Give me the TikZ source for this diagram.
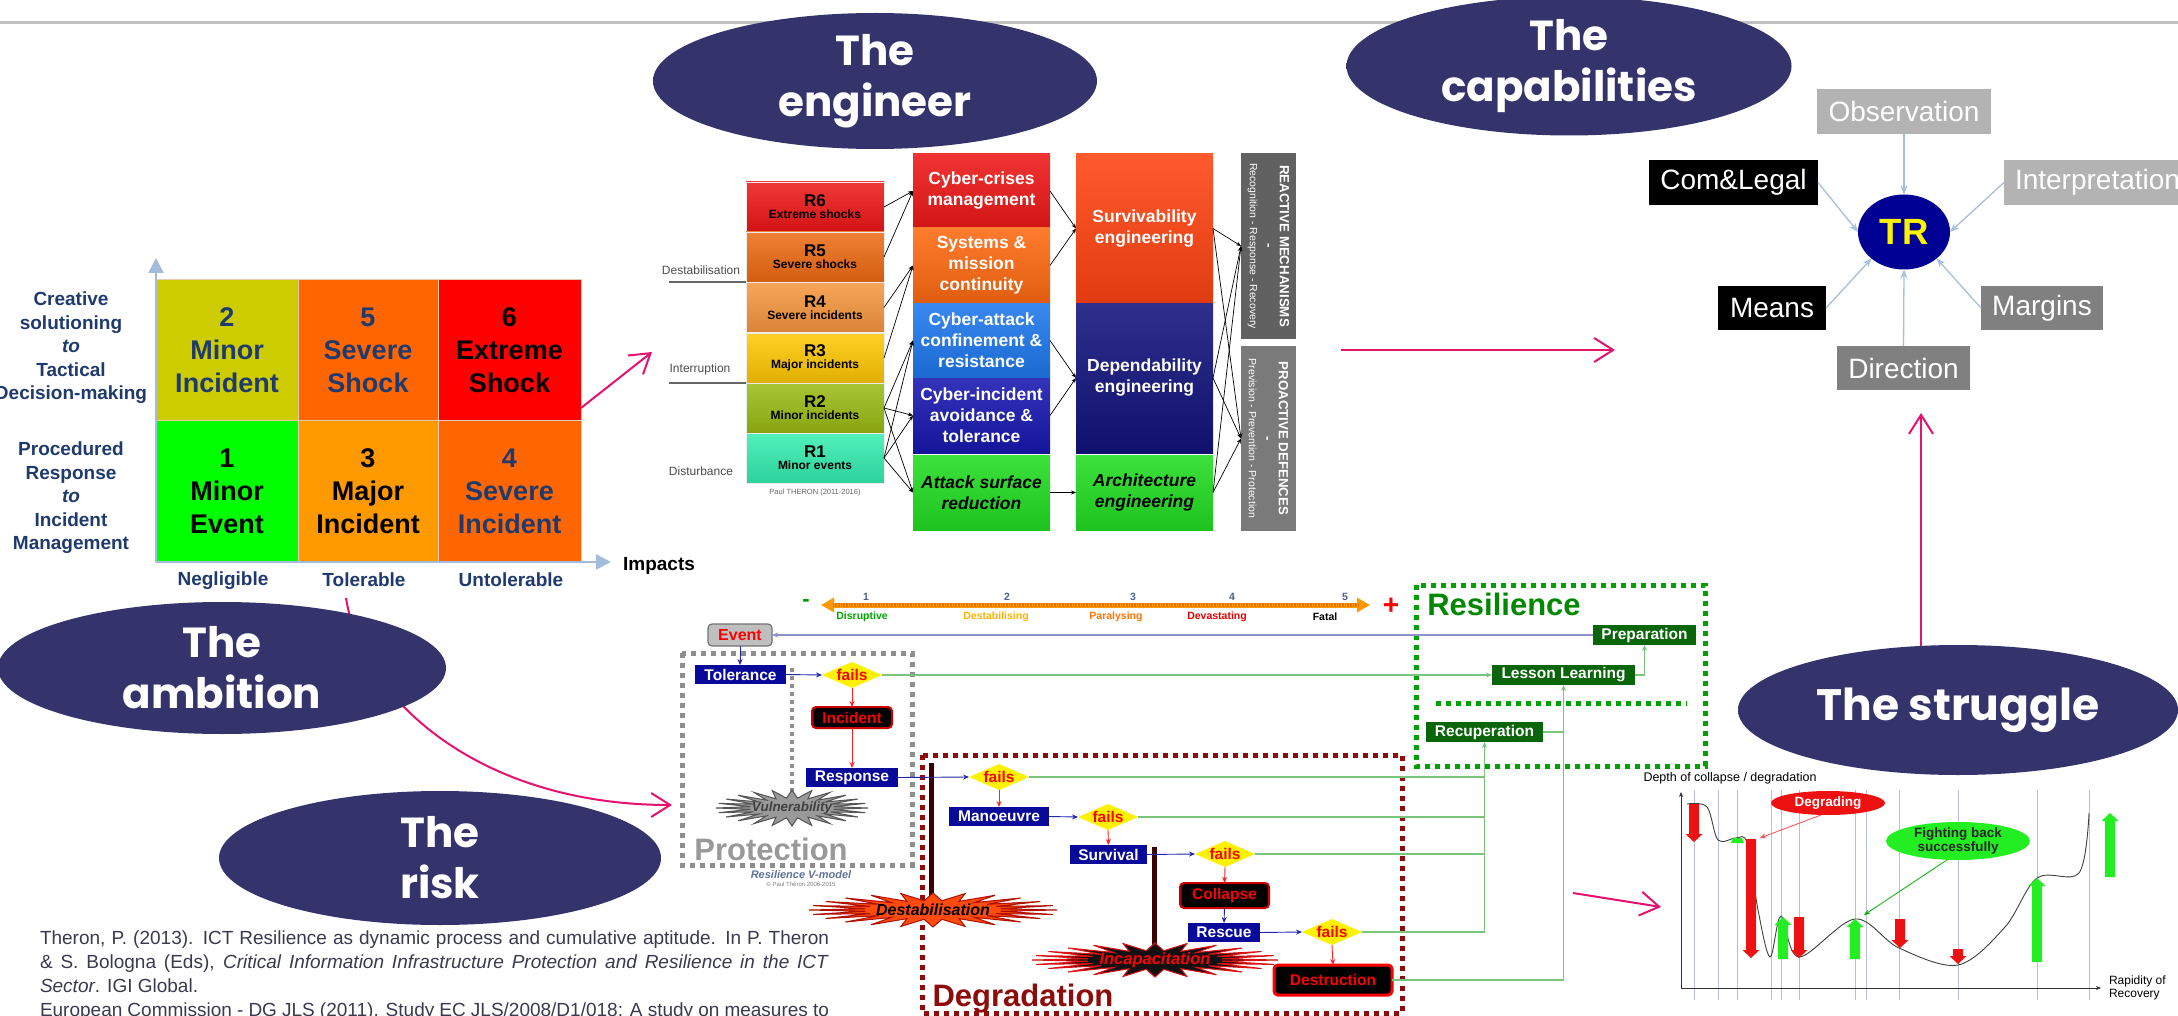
\documentclass[tikz,border=0pt]{standalone}
\usepackage{fontspec}
\setmainfont{Liberation Sans}
\newfontfamily\gothic{Poppins}
\usetikzlibrary{arrows.meta,shapes.geometric,calc}
\newcommand{\fsz}[2]{\fontsize{#1}{#2}\selectfont}
\definecolor{ellc}{HTML}{34336B}
\definecolor{elle}{HTML}{5455A8}
\definecolor{pinkc}{HTML}{E5126E}
\definecolor{navyt}{HTML}{1F3A6E}
\definecolor{axisc}{HTML}{A3BCDC}
\definecolor{cellb}{HTML}{E9C9B0}
\definecolor{mYel}{HTML}{CCCC00}
\definecolor{mOrg}{HTML}{FF6600}
\definecolor{mRed}{HTML}{FF0000}
\definecolor{mGrn}{HTML}{00FF00}
\definecolor{mAmb}{HTML}{FF9900}
\definecolor{rSix}{HTML}{EE1515}
\definecolor{rFive}{HTML}{EE6A12}
\definecolor{rFour}{HTML}{F7963C}
\definecolor{rThree}{HTML}{FFC800}
\definecolor{rTwo}{HTML}{9ABB12}
\definecolor{rOne}{HTML}{33EEB0}
\definecolor{eCris}{HTML}{EE1818}
\definecolor{eSys}{HTML}{FF6A12}
\definecolor{eAtt}{HTML}{1E78EE}
\definecolor{eInc}{HTML}{1818B0}
\definecolor{eGrn}{HTML}{22DD22}
\definecolor{eSurv}{HTML}{FF4412}
\definecolor{eDep}{HTML}{12127C}
\definecolor{barA}{HTML}{616161}
\definecolor{barB}{HTML}{7A7A7A}
\definecolor{capL}{HTML}{B3B3B3}
\definecolor{capD}{HTML}{808080}
\definecolor{capA}{HTML}{A8C0DC}
\definecolor{trc}{HTML}{000092}
\definecolor{vnavy}{HTML}{0A0A9A}
\definecolor{vgreen}{HTML}{0B650B}
\definecolor{vline}{HTML}{7CC47C}
\definecolor{vblue}{HTML}{2424A8}
\definecolor{vred}{HTML}{FF2222}
\definecolor{vlav}{HTML}{8F8FCC}
\definecolor{protc}{HTML}{8E8E8E}
\definecolor{degc}{HTML}{8E0C0C}
\definecolor{resgreen}{HTML}{00A000}
\definecolor{gridc}{HTML}{B8C0E2}
\definecolor{refc}{HTML}{3A3A4E}
\definecolor{burstO}{HTML}{FF4A10}
\definecolor{burstOd}{HTML}{B01000}
\definecolor{burstG}{HTML}{9A9A9A}
\definecolor{burstGd}{HTML}{555555}
\definecolor{burstK}{HTML}{111111}
\definecolor{burstKd}{HTML}{DD1111}
\definecolor{stickc}{HTML}{3A0000}
\definecolor{topln}{HTML}{C0C0C0}
\definecolor{chgreen}{HTML}{22EE22}
\definecolor{chred}{HTML}{EE1111}
\pgfdeclareradialshading{ellsh}{\pgfpoint{0bp}{0bp}}{color(0bp)=(ellc); color(34bp)=(ellc); color(50bp)=(elle)}
\newcommand{\vburst}[6]{%
  \filldraw[fill=#5, draw=#6, line width=1pt] plot[samples=49, domain=0:360, variable=\t]
   ({#1+#3*cos(\t)*(1-0.45*mod(round(\t/7.5),2))}, {#2+#4*sin(\t)*(1-0.45*mod(round(\t/7.5),2))}) -- cycle;}
\newcommand{\chartdown}[4]{\fill[#4] (#1-5,#2) -- (#1+5,#2) -- (#1+5,#3-8) -- (#1+8.5,#3-8) -- (#1,#3) -- (#1-8.5,#3-8) -- (#1-5,#3-8) -- cycle;}
\newcommand{\chartup}[4]{\fill[#4] (#1-5,#2) -- (#1+5,#2) -- (#1+5,#3+8) -- (#1+8.5,#3+8) -- (#1,#3) -- (#1-8.5,#3+8) -- (#1-5,#3+8) -- cycle;}
\begin{document}
\begin{tikzpicture}[x=1pt,y=-1pt,
  every node/.style={inner sep=0pt, outer sep=0pt},
  bigell/.style={ellipse, shade, shading=ellsh, text=white, align=center, font=\gothic\bfseries\fsz{42}{51}},
  pinkar/.style={draw=pinkc, line width=2pt, -{Straight Barb[length=19pt,width=24pt,line width=2pt]}},
  mcell/.style={minimum height=#1, align=center, font=\bfseries\fsz{27}{33}, draw=cellb, line width=1pt},
  stlbl/.style={text=navyt, align=center, font=\bfseries\fsz{19}{23.5}},
  rbox/.style={minimum width=138pt, minimum height=50pt, align=center, font=\bfseries, draw=white!85!gray, line width=0.6pt, top color=#1!85!white, bottom color=#1!88!black},
  ebox/.style={minimum width=137pt, align=center, text=white, font=\bfseries\fsz{17.5}{21}, top color=#1!88!white, bottom color=#1!88!black},
  earr/.style={draw=black, line width=0.7pt, -{Stealth[length=5pt,width=4pt]}},
  sidelbl/.style={text=black!70, font=\fsz{12}{12}},
  capbox/.style={minimum height=45pt, text=white, font=\fsz{28}{28}},
  capar/.style={draw=capA, line width=1.3pt, -{Stealth[length=9pt,width=7pt]}},
  vbx/.style={fill=vnavy, text=white, font=\bfseries\fsz{15.5}{16}, minimum height=19pt},
  gbx/.style={fill=vgreen, text=white, font=\bfseries\fsz{15.5}{16}, minimum height=20pt},
  kbx/.style={fill=black, text=red, font=\bfseries\fsz{15.5}{16}, draw=#1, line width=2pt, rounded corners=4pt},
  failsd/.style={diamond, aspect=2.3, fill=yellow, text=red, font=\bfseries\fsz{15.5}{16}, minimum width=60pt, minimum height=26pt},
  bluar/.style={draw=vblue, line width=0.9pt, -{Stealth[length=6pt,width=5pt]}},
  redar/.style={draw=vred, line width=0.9pt, -{Stealth[length=6pt,width=5pt]}},
  grnln/.style={draw=vline, line width=1.1pt},
  grnar/.style={draw=vline, line width=1.1pt, -{Stealth[length=6pt,width=5pt]}},
  dbox/.style={line width=5pt, dash pattern=on 5pt off 5pt},
]
\clip (0,0) rectangle (2178,1016);
\fill[white] (0,0) rectangle (2178,1016);

% ---------- top rule
\coordinate (tl0) at (0,23); \coordinate (tl1) at (2178,23);
\draw[draw=topln, line width=3pt] (tl0) -- (tl1);

% ---------- curve ambition -> protection (behind ellipse)
\coordinate (ambst) at (346,598);
\coordinate (risktip) at (672,805);
\draw[pinkar] (ambst) .. controls (362,700) and (480,805) .. (risktip);

% ---------- ellipses
\node[bigell, minimum width=444pt, minimum height=136pt] (engell) at (875,81) {The\\engineer};
\node[bigell, minimum width=445pt, minimum height=139pt] (capell) at (1569,66) {The\\capabilities};
\node[bigell, minimum width=448pt, minimum height=132pt] (ambell) at (222,668) {The\\ambition};
\node[bigell, minimum width=442pt, minimum height=134pt] (riskell) at (440,858) {The\\risk};

% ---------- matrix
\node[mcell=140pt, minimum width=142pt, fill=mYel, text=navyt] (m2) at (227,350) {2\\Minor\\Incident};
\node[mcell=140pt, minimum width=140pt, fill=mOrg, text=navyt] (m5) at (368,350) {5\\Severe\\Shock};
\node[mcell=140pt, minimum width=143pt, fill=mRed, text=black] (m6) at (509.5,350) {6\\Extreme\\Shock};
\node[mcell=142pt, minimum width=142pt, fill=mGrn, text=black] (m1) at (227,491) {1\\Minor\\Event};
\node[mcell=142pt, minimum width=140pt, fill=mAmb, text=black] (m3) at (368,491) {3\\Major\\Incident};
\node[mcell=142pt, minimum width=143pt, fill=mOrg, text=navyt] (m4) at (509.5,491) {4\\Severe\\Incident};
\coordinate (ax0) at (156,562); \coordinate (axY) at (156,258); \coordinate (axX) at (611,562);
\draw[draw=axisc, line width=2.5pt, -{Triangle[length=15pt,width=15pt]}] (ax0) -- (axY);
\draw[draw=axisc, line width=2.5pt, -{Triangle[length=15pt,width=15pt]}] (ax0) -- (axX);
\node[stlbl] (lblA) at (71,348) {Creative\\solutioning\\\textit{to}\\Tactical\\Decision-making};
\node[stlbl] (lblB) at (71,498) {Procedured\\Response\\\textit{to}\\Incident\\Management};
\node[stlbl] (neg) at (223,581) {Negligible};
\node[stlbl] (tolb) at (364,580) {Tolerable};
\node[stlbl] (unt) at (511,580) {Untolerable};
\node[font=\bfseries\fsz{19}{19}] (imp) at (659,566) {Impacts};
\coordinate (pa1s) at (581,408); \coordinate (pa1e) at (652,352);
\draw[pinkar] (pa1s) -- (pa1e);

% ---------- engineer diagram
\node[rbox=rSix] (r6) at (815,207) {\fsz{17}{16}R6\\\fsz{12}{16}Extreme shocks};
\node[rbox=rFive] (r5) at (815,257) {\fsz{17}{16}R5\\\fsz{12}{16}Severe shocks};
\node[rbox=rFour] (r4) at (815,307.5) {\fsz{17}{16}R4\\\fsz{12}{16}Severe incidents};
\node[rbox=rThree] (r3) at (815,358) {\fsz{17}{16}R3\\\fsz{12}{16}Major incidents};
\node[rbox=rTwo] (r2) at (815,408) {\fsz{17}{16}R2\\\fsz{12}{16}Minor incidents};
\node[rbox=rOne] (r1) at (815,458) {\fsz{17}{16}R1\\\fsz{12}{16}Minor events};
\node[sidelbl] (dstl) at (701,270) {Destabilisation};
\node[sidelbl] (intl) at (700,369) {Interruption};
\node[sidelbl] (disl) at (701,471) {Disturbance};
\coordinate (dl0) at (669,282); \coordinate (il0) at (669,383);
\draw[draw=black!60, line width=1.5pt] (dl0) -- (dl0 -| r4.west);
\draw[draw=black!60, line width=1.5pt] (il0) -- (il0 -| r2.west);
\node[text=black!60, font=\fsz{7.5}{8}] (ptheron) at (815,493) {Paul THERON  (2011-2016)};

\node[ebox=eCris, minimum height=74pt] (cc) at (981.5,191) {Cyber-crises\\management};
\node[ebox=eSys, minimum height=75pt] (sm) at (981.5,265.5) {Systems \&\\mission\\continuity};
\node[ebox=eAtt, minimum height=75pt] (ca) at (981.5,340.5) {Cyber-attack\\confinement \&\\resistance};
\node[ebox=eInc, minimum height=75pt] (ci) at (981.5,415.5) {Cyber-incident\\avoidance \&\\tolerance};
\node[ebox=eGrn, minimum height=75pt, text=black, font=\bfseries\itshape\fsz{17.5}{21}] (as) at (981.5,492.5) {Attack surface\\reduction};
\node[ebox=eSurv, minimum height=149pt] (sv) at (1144.5,228.5) {Survivability\\engineering};
\node[ebox=eDep, minimum height=150pt] (dp) at (1144.5,378) {Dependability\\engineering};
\node[ebox=eGrn, minimum height=75pt, text=black, font=\bfseries\itshape\fsz{17.5}{21}] (ar) at (1144.5,492.5) {Architecture\\engineering};
\node[fill=barA, minimum width=55pt, minimum height=186pt] (rea) at (1268.5,246) {};
\node[fill=barB, minimum width=55pt, minimum height=185pt] (pro) at (1268.5,438.5) {};
\node[rotate=-90, align=center, text=white, font=\bfseries\fsz{13.3}{15}] (reat) at (rea.center) {REACTIVE MECHANISMS\\-\\\mdseries\fsz{10.5}{14}Recognition - Response - Recovery};
\node[rotate=-90, align=center, text=white, font=\bfseries\fsz{13.3}{15}] (prot) at (pro.center) {PROACTIVE DEFENCES\\-\\\mdseries\fsz{10.5}{14}Prevision - Prevention - Protection};
\draw[earr] (r6.east) -- (cc.west);
\draw[earr] (r5.east) -- (cc.west);
\draw[earr] (r4.east) -- (sm.west);
\draw[earr] (r3.east) -- (sm.west);
\foreach \a in {r2,r1} \foreach \b in {ca,ci,as} \draw[earr] (\a.east) -- (\b.west);
\draw[earr] (cc.east) -- (sv.west);
\draw[earr] (sm.east) -- (sv.west);
\draw[earr] (ca.east) -- (dp.west);
\draw[earr] (ci.east) -- (dp.west);
\draw[earr] (as.east) -- (ar.west);
\foreach \a in {sv,dp,ar} \foreach \b in {rea,pro} \draw[earr] (\a.east) -- (\b.west);

% ---------- engineer -> capabilities arrow
\coordinate (pa2s) at (1341,350); \coordinate (pa2e) at (1615,350);
\draw[pinkar] (pa2s) -- (pa2e);

% ---------- capabilities
\node[ellipse, fill=trc, minimum width=92pt, minimum height=75pt, text=yellow, font=\bfseries\fsz{36.5}{36}] (tr) at (1904,232) {TR};
\node[capbox, fill=capL, minimum width=174pt] (obs) at (1904,111.5) {Observation};
\node[capbox, fill=black, minimum width=169pt] (com) at (1733.5,182.5) {Com\&Legal};
\node[capbox, fill=capL, minimum width=200pt, anchor=west, inner xsep=11pt, text width=185pt, align=left] (intp) at (2004,182.5) {Interpretation};
\node[capbox, fill=black, minimum width=108pt, minimum height=44pt] (means) at (1772,308) {Means};
\node[capbox, fill=capD, minimum width=122pt, minimum height=44pt] (marg) at (2042,308) {Margins};
\node[capbox, fill=capD, minimum width=133pt, minimum height=44pt] (dir) at (1903.5,368) {Direction};
\draw[capar] (obs.south) -- (tr.north);
\draw[capar] (com.east) -- (tr.west);
\draw[capar] (intp.west) -- (tr.east);
\draw[capar] (means.east) -- (tr.south west);
\draw[capar] (marg.west) -- (tr.south east);
\draw[capar] (dir.north) -- (tr.south);

% ---------- struggle ellipse and arrow up
\coordinate (pa3s) at (1921,650); \coordinate (pa3e) at (1921,413);
\draw[pinkar] (pa3s) -- (pa3e);
\node[bigell, minimum width=440pt, minimum height=130pt, font=\gothic\bfseries\fsz{44}{51}] (strell) at (1958,710) {The struggle};

% ---------- V-model
\draw[dbox, draw=protc] (682,653) rectangle (912,865);
\draw[line width=4pt, dash pattern=on 4pt off 4pt, draw=protc] (792,668) -- (792,797);
\draw[dbox, draw=degc] (922,755) rectangle (1402,1013);
\draw[dbox, draw=resgreen] (1416,585) rectangle (1705,766);
\draw[dbox, draw=resgreen] (1436,703) -- (1687,703);
\node[font=\bfseries\fsz{31}{31}, text=black!40] (protlbl) at (771,849) {Protection};
\node[font=\bfseries\fsz{31}{31}, text=degc] (deglbl) at (1023,999) {Degradation};
\node[font=\bfseries\fsz{31}{31}, text=resgreen!85!black] (reslbl) at (1504,604) {Resilience};
\node[font=\bfseries\itshape\fsz{11}{11}, text=navyt!70!white] (rvm) at (801,875) {Resilience V-model};
\node[font=\fsz{6}{6}, text=black!50] (cpr) at (801,884) {© Paul Théron 2006-2015};

% scale
\coordinate (scL) at (821,605); \coordinate (scR) at (1370,605);
\draw[line width=5pt, draw=orange!80!yellow, {Triangle[length=13pt,width=14pt]}-{Triangle[length=13pt,width=14pt]}] (scL) -- (scR);
\draw[line width=4pt, draw=orange!90!black, dash pattern=on 0.8pt off 0.8pt, shorten <=12pt, shorten >=12pt] (scL) -- (scR);
\node[font=\bfseries\fsz{22}{22}, text=green!60!black] (minus) at (806,603) {-};
\node[font=\bfseries\fsz{28}{28}, text=red] (plus) at (1391,606) {+};
\foreach \n/\xx in {1/866,2/1007,3/1133,4/1232,5/1345}
  \node[font=\bfseries\fsz{10.5}{11}, text=navyt!80!white] (num\n) at (\xx,597) {\n};
\node[font=\bfseries\fsz{10.5}{11}, text=green!65!black] (sl1) at (862,617) {Disruptive};
\node[font=\bfseries\fsz{10.5}{11}, text=orange!60!yellow] (sl2) at (996,617) {Destabilising};
\node[font=\bfseries\fsz{10.5}{11}, text=orange!90!red] (sl3) at (1116,617) {Paralysing};
\node[font=\bfseries\fsz{10.5}{11}, text=red!90!black] (sl4) at (1217,617) {Devastating};
\node[font=\bfseries\fsz{10.5}{11}, text=black] (sl5) at (1325,617) {Fatal};

% sticks and bursts
\coordinate (st1a) at (931,763); \coordinate (st1b) at (931,897);
\coordinate (st2a) at (1154,847); \coordinate (st2b) at (1154,947);
\draw[line width=5pt, draw=stickc] (st1a) -- (st1b);
\draw[line width=5pt, draw=stickc] (st2a) -- (st2b);
\vburst{792}{808}{76}{18}{burstG}{burstGd}
\vburst{933}{910}{124}{17}{burstO}{burstOd}
\vburst{1155}{960}{123}{17}{burstK}{burstKd}
\node[font=\bfseries\itshape\fsz{13.4}{14}, text=black!75] (vuln) at (792,808) {Vulnerability};
\node[font=\bfseries\itshape\fsz{16}{16}, text=black] (destab) at (933,910) {Destabilisation};
\node[font=\bfseries\itshape\fsz{16.5}{16}, text=red] (incap) at (1155,960) {Incapacitation};

% boxes
\node[fill=black!25, draw=black!55, line width=1.2pt, rounded corners=4pt, minimum width=64pt, minimum height=22pt, text=red, font=\bfseries\fsz{16}{16}] (event) at (740,635) {Event};
\node[vbx, minimum width=91pt] (tol) at (740.5,674.5) {Tolerance};
\node[failsd] (f1) at (852,675) {fails};
\node[kbx=red!80!black, minimum width=80pt, minimum height=21pt] (inc) at (852,717.5) {Incident};
\node[vbx, minimum width=92pt] (resp) at (852,777.5) {Response};
\node[failsd] (f2) at (999,777) {fails};
\node[vbx, minimum width=100pt] (man) at (999,816.5) {Manoeuvre};
\node[failsd] (f3) at (1108,817) {fails};
\node[vbx, minimum width=77pt] (surv) at (1108.5,854.5) {Survival};
\node[failsd] (f4) at (1225,854) {fails};
\node[kbx=red!80!black, minimum width=89pt, minimum height=25pt] (col) at (1224.5,895.5) {Collapse};
\node[vbx, minimum width=72pt] (resc) at (1224,932.5) {Rescue};
\node[failsd] (f5) at (1332,932) {fails};
\node[kbx=red, minimum width=118pt, minimum height=30pt, line width=3pt] (des) at (1333,980) {Destruction};
\node[gbx, minimum width=103pt] (prep) at (1644.5,635) {Preparation};
\node[gbx, minimum width=143pt] (les) at (1563.5,675) {Lesson Learning};
\node[gbx, minimum width=117pt] (rec) at (1484.5,732) {Recuperation};

\draw[draw=vlav, line width=1.3pt, -{Stealth[length=6pt,width=5pt]}] (prep.west) -- (event.east);
\draw[bluar] (event.south) -- (event.south |- tol.north);
\draw[bluar] (tol.east) -- (f1.west);
\draw[grnar] (f1.east) -- (les.west);
\draw[redar] (f1.south) -- (inc.north);
\draw[redar] (inc.south) -- (resp.north);
\draw[bluar] (resp.east) -- (f2.west);
\draw[redar] (f2.south) -- (man.north);
\draw[bluar] (man.east) -- (f3.west);
\draw[redar] (f3.south) -- (surv.north);
\draw[bluar] (surv.east) -- (f4.west);
\draw[redar] (f4.south) -- (col.north);
\draw[bluar] (col.south) -- (resc.north);
\draw[bluar] (resc.east) -- (f5.west);
\draw[redar] (f5.south) -- (des.north);
\draw[grnln] (f2.east) -- (rec.south |- f2.east);
\draw[grnln] (f3.east) -- (rec.south |- f3.east);
\draw[grnln] (f4.east) -- (rec.south |- f4.east);
\draw[grnar] (f5.east) -- (rec.south |- f5.east) -- (rec.south);
\draw[grnar] (des.east) -- (les.south |- des.east) -- (les.south);
\draw[grnln] (rec.east) -- (les.south |- rec.east);
\draw[grnar] (les.east) -- (prep.south |- les.east) -- (prep.south);

% ---------- V-model -> chart arrow
\coordinate (pa4s) at (1573,893); \coordinate (pa4e) at (1661,907);
\draw[pinkar] (pa4s) -- (pa4e);

% ---------- struggle chart
\foreach \gx in {1694,1718,1737,1771,1781,1799,1855,1866,1899,1958,2037,2089}
  \draw[draw=gridc, line width=0.7pt] (\gx,790) -- (\gx,1000);
\coordinate (yo) at (1681,988); \coordinate (ytop) at (1681,792); \coordinate (xend) at (2101,988);
\draw[black!80, line width=0.9pt, -{Stealth[length=5pt,width=4pt]}] (yo) -- (ytop);
\draw[black!80, line width=0.9pt, -{Stealth[length=5pt,width=4pt]}] (yo) -- (xend);
\node[font=\fsz{12.5}{13}] (depth) at (1730,778) {Depth of collapse / degradation};
\node[font=\fsz{12}{13}, anchor=west, align=left] (rapid) at (2109,988) {Rapidity of\\Recovery};
\draw[black!75, line width=0.9pt] plot[smooth, tension=0.55] coordinates {(1687,804) (1707,807) (1718,840) (1736,838) (1747,843) (1758,910) (1770,957) (1781,916) (1799,957) (1855,919) (1899,948) (1958,965) (2005,927) (2037,878) (2079,873) (2089,813)};
\chartdown{1694}{804}{842}{chred}
\chartdown{1751}{839}{958}{chred}
\chartdown{1799}{917}{958}{chred}
\chartdown{1900}{919}{948}{chred}
\chartdown{1958}{949}{964}{chred}
\chartup{1783}{959}{917}{chgreen}
\chartup{1855}{959}{919}{chgreen}
\chartup{2037}{962}{878}{chgreen}
\chartup{2110}{877}{813}{chgreen}
\fill[chgreen] (1733,838) -- (1742,838) -- (1744,843) -- (1731,843) -- cycle;
\node[ellipse, fill=chred, minimum width=114pt, minimum height=24pt, text=white, font=\bfseries\fsz{13.5}{14}] (degr) at (1828,803) {Degrading};
\node[ellipse, fill=chgreen, minimum width=144pt, minimum height=38pt, text=black!85, align=center, font=\bfseries\fsz{13.5}{14}] (fight) at (1958,841) {Fighting back\\successfully};
\coordinate (degtip) at (1760,838); \coordinate (fighttip) at (1864,915);
\draw[draw=red!70, line width=0.8pt, -{Stealth[length=6pt,width=5pt]}] (degr.240) -- (degtip);
\draw[draw=green!70!black, line width=0.8pt, -{Stealth[length=6pt,width=5pt]}] (fight.240) -- (fighttip);

% ---------- references
\node[anchor=north west, text width=789pt, align=justify, font=\fsz{19}{24}, text=refc] (refs) at (40,931) {Theron, P. (2013). ICT Resilience as dynamic process and cumulative aptitude. In P. Theron\linebreak \& S. Bologna (Eds), \textit{Critical Information Infrastructure Protection and Resilience in the ICT}\linebreak \textit{Sector}. IGI Global.\par European Commission - DG JLS (2011). Study EC JLS/2008/D1/018: A study on measures to};
\end{tikzpicture}
\end{document}
